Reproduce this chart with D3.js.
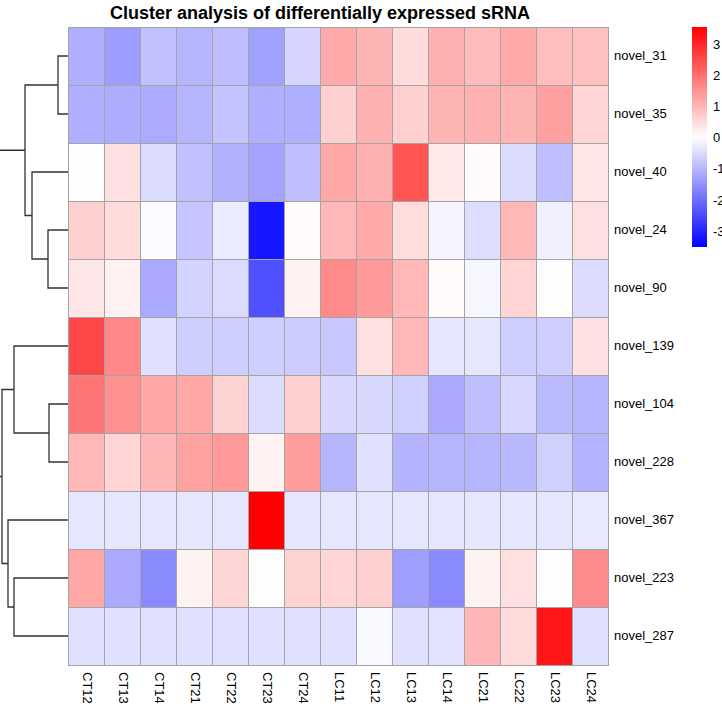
<!DOCTYPE html>
<html><head><meta charset="utf-8">
<script src="https://cdn.jsdelivr.net/npm/d3@7"></script>
<style>
body{margin:0;background:#fff;}
svg{display:block;font-family:"Liberation Sans",Arial,Helvetica,sans-serif;}
</style>
</head><body>
<svg id="chart" width="722" height="710"></svg>
<script>
// ---------- data ----------
const rowLabels = ["novel_31","novel_35","novel_40","novel_24","novel_90","novel_139","novel_104","novel_228","novel_367","novel_223","novel_287"];
const colLabels = ["CT12","CT13","CT14","CT21","CT22","CT23","CT24","LC11","LC12","LC13","LC14","LC21","LC22","LC23","LC24"];
const values = [
  [-1.10,-1.35,-0.85,-1.00,-0.90,-1.30,-0.57, 1.18, 1.05, 0.50, 1.10, 0.95, 1.20, 0.90, 0.88],
  [-1.10,-1.12,-1.15,-1.00,-0.82,-1.10,-1.10, 0.65, 1.10, 0.65, 1.05, 1.10, 1.05, 1.32, 0.60],
  [ 0.02, 0.43,-0.50,-0.85,-1.08,-1.25,-0.88, 1.22, 1.10, 2.37, 0.30, 0.05,-0.48,-0.88, 0.35],
  [ 0.65, 0.50,-0.05,-0.80,-0.28,-3.20, 0.05, 1.00, 1.18, 0.47,-0.15,-0.47, 1.00,-0.20, 0.43],
  [ 0.35, 0.20,-1.18,-0.60,-0.50,-2.40, 0.18, 1.63, 1.40, 1.00, 0.05,-0.12, 0.58, 0.02,-0.48],
  [ 2.56, 1.67,-0.43,-0.66,-0.66,-0.66,-0.70,-0.75, 0.43, 1.00,-0.35,-0.35,-0.68,-0.68, 0.43],
  [ 1.93, 1.55, 1.24, 1.22, 0.62,-0.48, 0.65,-0.53,-0.53,-0.65,-1.18,-0.88,-0.56,-0.95,-1.03],
  [ 1.00, 0.58, 1.02, 1.30, 1.40, 0.18, 1.38,-1.00,-0.43,-1.05,-1.02,-1.02,-0.98,-0.65,-1.05],
  [-0.35,-0.35,-0.35,-0.35,-0.35, 3.55,-0.35,-0.35,-0.35,-0.35,-0.35,-0.35,-0.35,-0.35,-0.32],
  [ 1.22,-1.18,-1.60, 0.18, 0.57, 0.02, 0.62, 0.58, 0.65,-1.33,-1.60, 0.18, 0.43, 0.02, 1.60],
  [-0.43,-0.43,-0.43,-0.43,-0.43,-0.43,-0.43,-0.43,-0.10,-0.43,-0.40, 1.02, 0.50, 3.23,-0.43]
];
const legendTicks = [3, 2, 1, 0, -1, -2, -3];
// hclust-style merges: negative = leaf (1-based row), positive = earlier merge (1-based)
const mergePairs = [[-1,-2],[-4,-5],[-3,2],[1,3],[-7,-8],[-6,5],[-10,-11],[-9,7],[6,8],[4,9]];
const mergeHeights = [10, 20, 36, 43, 19, 54, 54, 60, 66, 72];
const titleText = "Cluster analysis of differentially expressed sRNA";

// ---------- layout ----------
const svg = d3.select("#chart");
const gridL = 68, gridR = 608, gridT = 27, gridB = 665;

const x = d3.scaleBand().domain(colLabels).range([gridL, gridR]);
const y = d3.scaleBand().domain(rowLabels).range([gridT, gridB]);
const color = d3.scaleLinear().domain([-3.5, 0, 3.55]).range(["#0000FF", "#FFFFFF", "#FF0000"]);

// title
svg.append("text")
  .attr("x", 320).attr("y", 19)
  .attr("text-anchor", "middle")
  .attr("font-size", 18).attr("font-weight", "bold")
  .attr("fill", "#000")
  .text(titleText);

// cells
const cells = [];
values.forEach((row, i) => row.forEach((v, j) => cells.push({r: rowLabels[i], c: colLabels[j], v})));
svg.append("g").selectAll("rect").data(cells).join("rect")
  .attr("x", d => x(d.c) + 0.5)
  .attr("y", d => y(d.r) + 0.5)
  .attr("width", x.bandwidth())
  .attr("height", y.bandwidth())
  .attr("fill", d => color(d.v))
  .attr("stroke", "#A4A4A4")
  .attr("stroke-width", 1);

// row labels
svg.append("g").selectAll("text").data(rowLabels).join("text")
  .attr("x", gridR + 6)
  .attr("y", d => y(d) + y.bandwidth() / 2 + 1)
  .attr("dominant-baseline", "middle")
  .attr("font-size", 13)
  .attr("fill", "#000")
  .text(d => d);

// column labels
svg.append("g").selectAll("text").data(colLabels).join("text")
  .attr("transform", d => `translate(${x(d) + x.bandwidth() / 2},${gridB + 7}) rotate(90)`)
  .attr("dominant-baseline", "middle")
  .attr("font-size", 13)
  .attr("fill", "#000")
  .text(d => d);

// dendrogram
const hx = d3.scaleLinear().domain([0, 68]).range([gridL, 0]);
const nodes = [];
function nodeOf(k) {
  if (k < 0) { const r = rowLabels[-k - 1]; return {h: 0, y: y(r) + y.bandwidth() / 2}; }
  return nodes[k - 1];
}
const dg = svg.append("g").attr("fill", "none").attr("stroke", "#333333").attr("stroke-width", 1.3);
mergePairs.forEach((p, i) => {
  const a = nodeOf(p[0]), b = nodeOf(p[1]);
  const h = mergeHeights[i];
  const n = {h, y: (a.y + b.y) / 2};
  nodes.push(n);
  const xh = hx(h);
  dg.append("path")
    .attr("d", `M${hx(a.h)},${a.y}H${xh}V${b.y}H${hx(b.h)}`);
});

// legend
const ly = d3.scaleLinear().domain([-3.5, 3.55]).range([247, 27]);
const defs = svg.append("defs");
const grad = defs.append("linearGradient").attr("id", "lg")
  .attr("x1", 0).attr("x2", 0).attr("y1", 0).attr("y2", 1);
const stops = d3.range(0, 21).map(i => 3.55 - i * (7.05 / 20));
stops.forEach((v, i) => grad.append("stop")
  .attr("offset", (ly(v) - 27) / 220)
  .attr("stop-color", color(v)));
svg.append("rect")
  .attr("x", 692).attr("y", ly(3.55))
  .attr("width", 15).attr("height", ly(-3.5) - ly(3.55))
  .attr("fill", "url(#lg)");
svg.append("g").selectAll("text").data(legendTicks).join("text")
  .attr("x", 713)
  .attr("y", d => ly(d) + 1)
  .attr("dominant-baseline", "middle")
  .attr("font-size", 13)
  .attr("fill", "#000")
  .text(d => d);
</script>
</body></html>
